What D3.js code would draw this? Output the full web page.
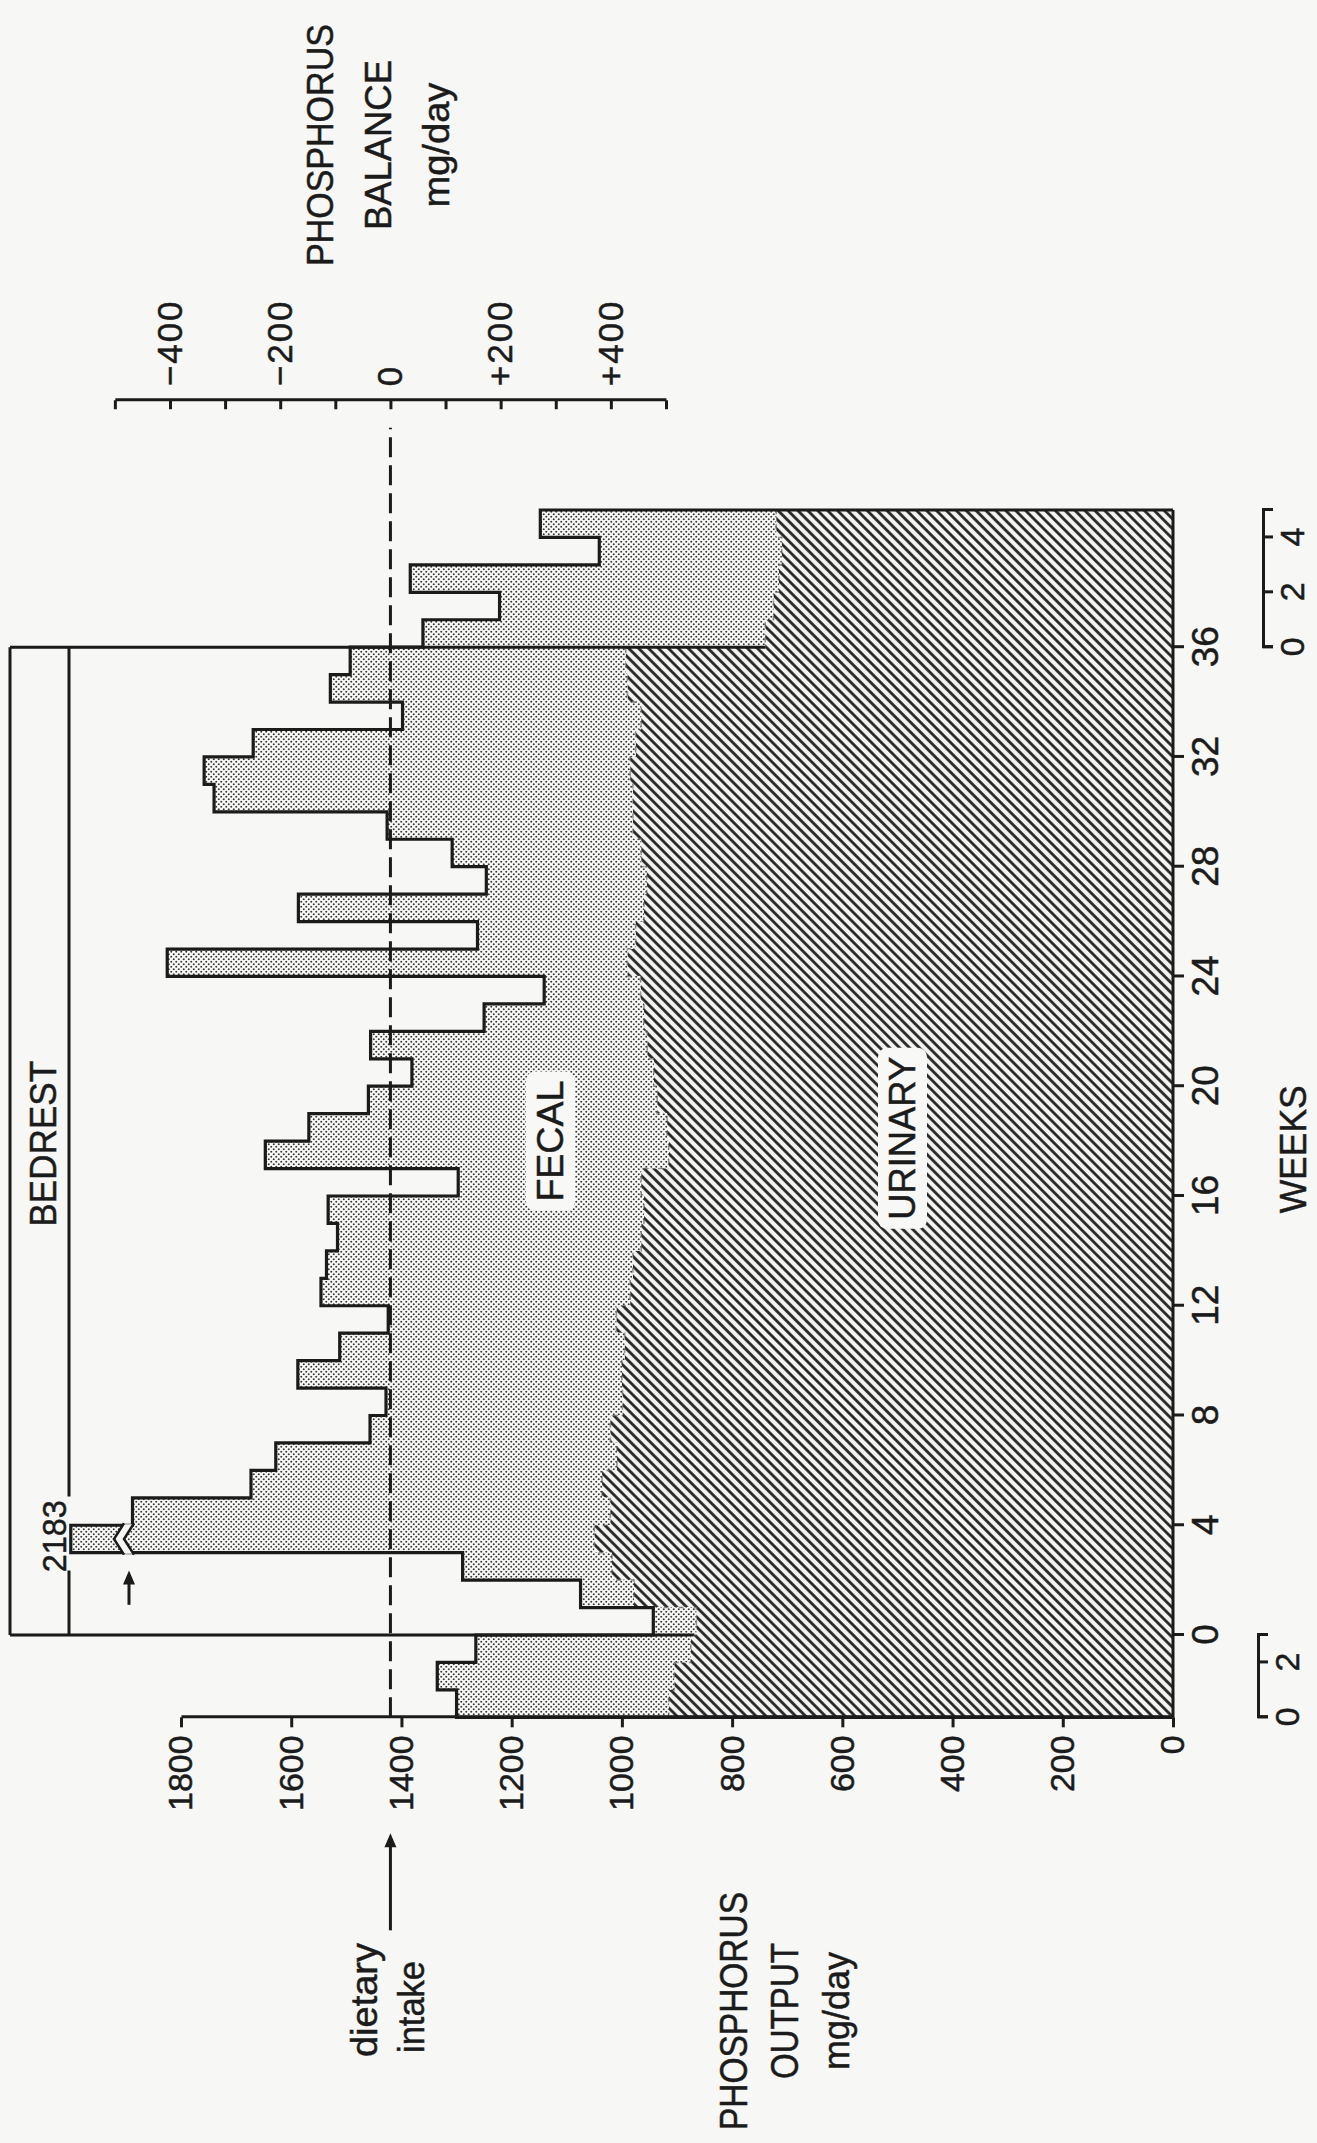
<!DOCTYPE html>
<html>
<head>
<meta charset="utf-8">
<script src="https://cdn.jsdelivr.net/npm/d3@7/dist/d3.min.js"></script>
<style>
body { margin: 0; background: #f7f7f5; }
text { font-family: "Liberation Sans", Arial, sans-serif; fill: #1b1b1b; stroke: #1b1b1b; stroke-width: 0.5px; }
.axis .domain, .axis .tick line { stroke: #1b1b1b; stroke-width: 3; }
.axis text { font-size: 34px; fill: #1b1b1b; font-family: "Liberation Sans", Arial, sans-serif; }
</style>
</head>
<body>
<svg id="chart"></svg>
<script>
let width = 1317;
let height = 2143;

// first week of each bar: control -3..-1, bedrest 0..35, recovery 36..40
let weeks = d3.range(-3, 41);
let totalOutput = [1300, 1335, 1265,
    943, 1075, 1289, 2183, 1888, 1673, 1628, 1457, 1428, 1588,
    1512, 1424, 1546, 1536, 1516, 1533, 1297, 1647, 1568, 1460,
    1381, 1456, 1250, 1141, 1825, 1262, 1587, 1246, 1308, 1426,
    1740, 1758, 1669, 1398, 1529, 1493,
    1361, 1222, 1384, 1041, 1148];
let urinaryOutput = [915, 905, 875,
    865, 978, 1018, 1050, 1021, 1036, 1009, 1021, 999, 1000,
    995, 1010, 985, 980, 965, 960, 965, 915, 918, 936,
    942, 954, 960, 966, 990, 975, 960, 955, 965, 980,
    980, 985, 975, 965, 990, 993,
    740, 725, 715, 710, 720];
let dietaryIntake = 1420;
let brokenAt = 2000;   // the 2183 bar is cut here
let outputTicks = [0, 200, 400, 600, 800, 1000, 1200, 1400, 1600, 1800];
let weekTicks = [0, 4, 8, 12, 16, 20, 24, 28, 32, 36];
let balanceTicks = [-500, -400, -300, -200, -100, 0, 100, 200, 300, 400, 500];
let balanceLabels = {"-400": "\u2212400", "-200": "\u2212200", "0": "0", "200": "+200", "400": "+400"};
let preTicks = [0, 2];
let postTicks = [0, 2, 4];

let svg = d3.select("#chart")
    .attr("width", width)
    .attr("height", height);
svg.append("rect").attr("width", width).attr("height", height).attr("fill", "#f7f7f5");

let defs = svg.append("defs");
let dots = defs.append("pattern").attr("id", "dots")
    .attr("patternUnits", "userSpaceOnUse").attr("width", 5).attr("height", 5);
dots.append("rect").attr("width", 5).attr("height", 5).attr("fill", "#f9f9f7");
dots.append("circle").attr("cx", 1.25).attr("cy", 1.25).attr("r", 0.95).attr("fill", "#333");
dots.append("circle").attr("cx", 3.75).attr("cy", 3.75).attr("r", 0.95).attr("fill", "#333");
let hatch = defs.append("pattern").attr("id", "hatch")
    .attr("patternUnits", "userSpaceOnUse").attr("width", 7).attr("height", 7)
    .attr("patternTransform", "rotate(45)");
hatch.append("rect").attr("width", 7).attr("height", 7).attr("fill", "#f3f3f1");
hatch.append("line").attr("x1", 3.5).attr("x2", 3.5).attr("y1", 0).attr("y2", 7)
    .attr("stroke", "#1e1e1e").attr("stroke-width", 2.7);

// the figure is printed turned a quarter turn: draw upright, then rotate
let g = svg.append("g").attr("transform", `translate(0,${height}) rotate(-90)`);

let xW = d3.scaleLinear().domain([0, 36]).range([508, 1495.8]);
let yV = d3.scaleLinear().domain([0, 1800]).range([1173, 181]);
let yB = d3.scaleLinear().domain([-500, 500])
    .range([yV(dietaryIntake + 500), yV(dietaryIntake - 500)]);

let bars = weeks.map((w, i) => ({week: w, total: Math.min(totalOutput[i], brokenAt), urinary: urinaryOutput[i]}));

let boxOuter = 10, boxInner = 69;

// bedrest markers: week 0 and week 36
[[0, 870], [36, 740]].forEach(function(p) {
    g.append("line").attr("x1", xW(p[0])).attr("x2", xW(p[0]))
        .attr("y1", yV(0)).attr("y2", boxOuter)
        .attr("stroke", "#cfcfcf").attr("stroke-width", 2.5);
});

g.selectAll("rect.urinary").data(bars).enter().append("rect")
    .attr("class", "urinary")
    .attr("x", d => xW(d.week))
    .attr("width", d => xW(d.week + 1) - xW(d.week) + 0.6)
    .attr("y", d => yV(d.urinary))
    .attr("height", d => yV(0) - yV(d.urinary))
    .style("fill", "url(#hatch)");

g.selectAll("rect.fecal").data(bars).enter().append("rect")
    .attr("class", "fecal")
    .attr("x", d => xW(d.week))
    .attr("width", d => xW(d.week + 1) - xW(d.week) + 0.6)
    .attr("y", d => yV(d.total))
    .attr("height", d => yV(d.urinary) - yV(d.total))
    .style("fill", "url(#dots)");

// faint urinary edge
let urinaryPts = bars.map(d => [d.week, d.urinary]);
urinaryPts.push([41, bars[bars.length - 1].urinary]);
g.append("path")
    .attr("d", d3.line().x(d => xW(d[0])).y(d => yV(d[1])).curve(d3.curveStepAfter)(urinaryPts))
    .attr("fill", "none").attr("stroke", "#555").attr("stroke-width", 1.6)
    .attr("stroke-dasharray", "5 10").attr("opacity", 0.6);

// week 0 / 36 lines: dark above the urinary part
[[0, 870], [36, 740]].forEach(function(p) {
    g.append("line").attr("x1", xW(p[0])).attr("x2", xW(p[0]))
        .attr("y1", yV(p[1])).attr("y2", boxOuter)
        .attr("stroke", "#1b1b1b").attr("stroke-width", 3);
});

// total output outline
let outlinePts = [[-3, 0]].concat(bars.map(d => [d.week, d.total]));
outlinePts.push([41, bars[bars.length - 1].total]);
outlinePts.push([41, 0]);
g.append("path")
    .attr("d", d3.line().x(d => xW(d[0])).y(d => yV(d[1])).curve(d3.curveStepAfter)(outlinePts))
    .attr("fill", "none").attr("stroke", "#1b1b1b").attr("stroke-width", 3.2);

// break in the 2183 bar
let a1 = 114, a2 = 124;
g.append("path")
    .attr("d", `M${xW(3) - 1},${a1 + 10}L${xW(3.5)},${a1}L${xW(4) + 1},${a1 + 10}L${xW(4) + 1},${a2 + 10}L${xW(3.5)},${a2}L${xW(3) - 1},${a2 + 10}Z`)
    .attr("fill", "#f7f7f5");
[a1, a2].forEach(function(a) {
    g.append("path")
        .attr("d", `M${xW(3) - 2},${a + 10}L${xW(3.5)},${a}L${xW(4) + 2},${a + 10}`)
        .attr("fill", "none").attr("stroke", "#1b1b1b").attr("stroke-width", 2.5);
});

// bedrest box
g.append("line").attr("x1", xW(0)).attr("x2", xW(36)).attr("y1", boxOuter).attr("y2", boxOuter)
    .attr("stroke", "#1b1b1b").attr("stroke-width", 3);
[[0, 2.35], [5.05, 36]].forEach(function(s) {
    g.append("line").attr("x1", xW(s[0])).attr("x2", xW(s[1])).attr("y1", boxInner).attr("y2", boxInner)
        .attr("stroke", "#1b1b1b").attr("stroke-width", 3);
});

// dietary intake
g.append("line").attr("x1", xW(-3)).attr("x2", xW(44))
    .attr("y1", yV(dietaryIntake)).attr("y2", yV(dietaryIntake))
    .attr("stroke", "#1b1b1b").attr("stroke-width", 3).attr("stroke-dasharray", "20 8");

// axes
let outAxis = g.append("g").attr("class", "axis")
    .attr("transform", `translate(${xW(-3)},0)`)
    .call(d3.axisLeft(yV).tickValues(outputTicks).tickSize(10).tickSizeOuter(0).tickPadding(8).tickFormat(d3.format("d")));

let weekAxis = g.append("g").attr("class", "axis")
    .attr("transform", `translate(0,${yV(0)})`)
    .call(d3.axisBottom(xW).tickValues(weekTicks).tickSize(11).tickSizeOuter(0).tickPadding(8));
weekAxis.select(".domain").remove();
weekAxis.selectAll("text").style("font-size", "37px");
g.append("line").attr("x1", xW(-3)).attr("x2", xW(41)).attr("y1", yV(0)).attr("y2", yV(0))
    .attr("stroke", "#1b1b1b").attr("stroke-width", 3);

let preW = d3.scaleLinear().domain([0, 3]).range([xW(-3), xW(0)]);
let postW = d3.scaleLinear().domain([0, 5]).range([xW(36), xW(41)]);
g.append("g").attr("class", "axis").attr("transform", "translate(0,1258)")
    .call(d3.axisBottom(preW).tickValues(preTicks).tickSize(10).tickSizeOuter(10).tickPadding(7).tickFormat(d3.format("d")));
g.append("g").attr("class", "axis").attr("transform", "translate(0,1263)")
    .call(d3.axisBottom(postW).tickValues(postTicks).tickSize(10).tickSizeOuter(10).tickPadding(7).tickFormat(d3.format("d")));

let balAxis = g.append("g").attr("class", "axis")
    .attr("transform", `translate(${xW(45)},0)`)
    .call(d3.axisRight(yB).tickValues(balanceTicks).tickSize(-9).tickSizeOuter(0).tickPadding(14)
        .tickFormat(d => balanceLabels[d] || ""));
balAxis.selectAll("text").style("font-size", "35px").attr("letter-spacing", 2);

// labels
function label(txt, u, v, size, len, anchor) {
    let t = g.append("text")
        .attr("x", u).attr("y", v)
        .attr("text-anchor", anchor || "middle")
        .style("font-size", size + "px")
        .text(txt);
    if (len) { t.attr("textLength", len).attr("lengthAdjust", "spacingAndGlyphs"); }
    return t;
}

function boxed(txt, u, v, size, len) {
    let t = label(txt, u, v, size, len);
    let b = t.node().getBBox();
    g.insert("rect", function() { return t.node(); })
        .attr("x", b.x - 9).attr("y", b.y - 4)
        .attr("width", b.width + 18).attr("height", b.height + 8)
        .attr("rx", 9).attr("fill", "#f8f8f6");
}

label("BEDREST", xW(17.9), 56, 37, 166);
label("2183", xW(3.6), 66, 34, 72);
boxed("FECAL", xW(18), 563, 37, 121);
boxed("URINARY", xW(18.1), 915, 37, 163);
label("WEEKS", xW(17.7), 1306, 36, 128);

label("PHOSPHORUS", xW(54.3), 333, 37, 242);
label("BALANCE", xW(54.3), 391, 37, 170);
label("mg/day", xW(54.3), 449, 37, 125);

label("PHOSPHORUS", 132, 747, 38, 238);
label("OUTPUT", 132, 798, 38, 136);
label("mg/day", 132, 849, 37, 118);

label("dietary", 86, 377, 37, 114, "start");
label("intake", 90, 424, 37, 92, "start");

// arrows
function arrow(u0, u1, v) {
    g.append("line").attr("x1", u0).attr("x2", u1 - 12).attr("y1", v).attr("y2", v)
        .attr("stroke", "#1b1b1b").attr("stroke-width", 3);
    g.append("path").attr("d", `M${u1 - 14},${v - 6}L${u1},${v}L${u1 - 14},${v + 6}Z`)
        .attr("fill", "#1b1b1b");
}
arrow(xW(-3) - 213, xW(-3) - 116, yV(dietaryIntake));
arrow(xW(1.1), xW(2.35), 129);
</script>
</body>
</html>
